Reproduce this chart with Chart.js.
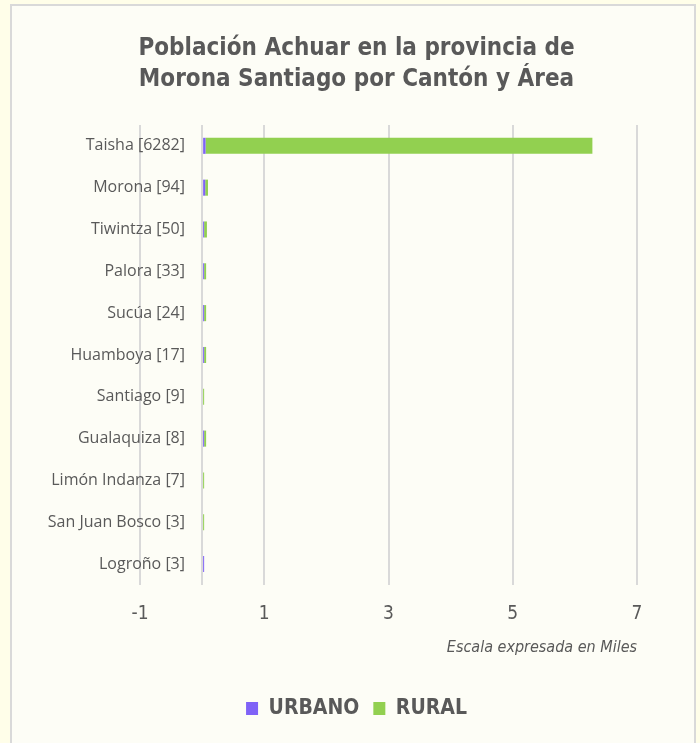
<!DOCTYPE html>
<html>
<head>
<meta charset="utf-8">
<script src="https://cdn.jsdelivr.net/npm/chart.js@4"></script>
<style>
    html, body { margin: 0; padding: 0; background: #fffee9; }
    #wrap { position: relative; width: 700px; height: 743px; overflow: hidden; }
    #panel {
        position: absolute; left: 10px; top: 4px; width: 682px; height: 760px;
        background: #fdfdf6; border: 2px solid #d9d9d9;
    }
    #chart { position: absolute; left: 0; top: 0; }
</style>
</head>
<body>
<div id="wrap">
    <div id="panel"></div>
    <canvas id="chart" width="700" height="743"></canvas>
</div>
<script>
// 数据 (habitantes)
const cantones = ['Taisha [6282]', 'Morona [94]', 'Tiwintza [50]', 'Palora [33]', 'Sucúa [24]',
    'Huamboya [17]', 'Santiago [9]', 'Gualaquiza [8]', 'Limón Indanza [7]', 'San Juan Bosco [3]', 'Logroño [3]'];
const urbano = [55, 50, 5, 8, 6, 4, 0, 3, 0, 0, 3];
const rural = [6227, 44, 45, 25, 18, 13, 9, 5, 7, 3, 0];
const xTicks = [-1, 1, 3, 5, 7];

const gris = '#595959';
const fuente = "'DejaVu Sans Condensed', 'Roboto', sans-serif";
// en miles; los ceros no se dibujan
const enMiles = arr => arr.map(v => v === 0 ? null : v / 1000);

new Chart(document.getElementById('chart'), {
    type: 'bar',
    data: {
        labels: cantones,
        datasets: [{
            label: 'URBANO',
            data: enMiles(urbano),
            backgroundColor: '#7f62f7',
            barPercentage: 0.48,
            categoryPercentage: 0.8,
            minBarLength: 2
        }, {
            label: 'RURAL',
            data: enMiles(rural),
            backgroundColor: '#92d050',
            barPercentage: 0.48,
            categoryPercentage: 0.8,
            minBarLength: 2
        }]
    },
    options: {
        indexAxis: 'y',
        responsive: false,
        animation: false,
        layout: { padding: { top: 33, left: 76, right: 63, bottom: 14 } },
        plugins: {
            title: {
                display: true,
                text: ['Población Achuar en la provincia de', 'Morona Santiago por Cantón y Área'],
                color: gris,
                font: { family: fuente, size: 24, weight: 'bold', lineHeight: 1.29 },
                padding: { top: 0, bottom: 30 }
            },
            legend: {
                position: 'bottom',
                labels: {
                    color: gris,
                    boxWidth: 12,
                    boxHeight: 13,
                    padding: 14,
                    font: { family: fuente, size: 21, weight: 'bold' }
                }
            },
            tooltip: { enabled: false }
        },
        scales: {
            x: {
                stacked: true,
                min: -1,
                max: 7,
                afterBuildTicks: scale => {
                    scale.ticks = xTicks.concat([0]).sort((a, b) => a - b).map(v => ({ value: v }));
                },
                ticks: {
                    color: gris,
                    padding: 18,
                    font: { family: fuente, size: 19 },
                    callback: v => v === 0 ? '' : v
                },
                grid: { color: '#d9d9d9', lineWidth: 2, drawTicks: false },
                border: { display: false },
                title: {
                    display: true,
                    align: 'end',
                    text: 'Escala expresada en Miles',
                    color: gris,
                    font: { family: fuente, size: 16, style: 'italic' },
                    padding: { top: -6, bottom: 27 }
                }
            },
            y: {
                stacked: true,
                grid: { display: false, drawTicks: false },
                border: { display: false },
                afterFit: scale => {
                    // labels sit over the -1 gridline, so no clip to the axis box
                    scale.width = 64;
                    scale._computeLabelArea = () => undefined;
                },
                ticks: {
                    color: gris,
                    padding: -45,
                    font: { family: "'Open Sans', sans-serif", size: 16 }
                }
            }
        }
    }
});
</script>
</body>
</html>
